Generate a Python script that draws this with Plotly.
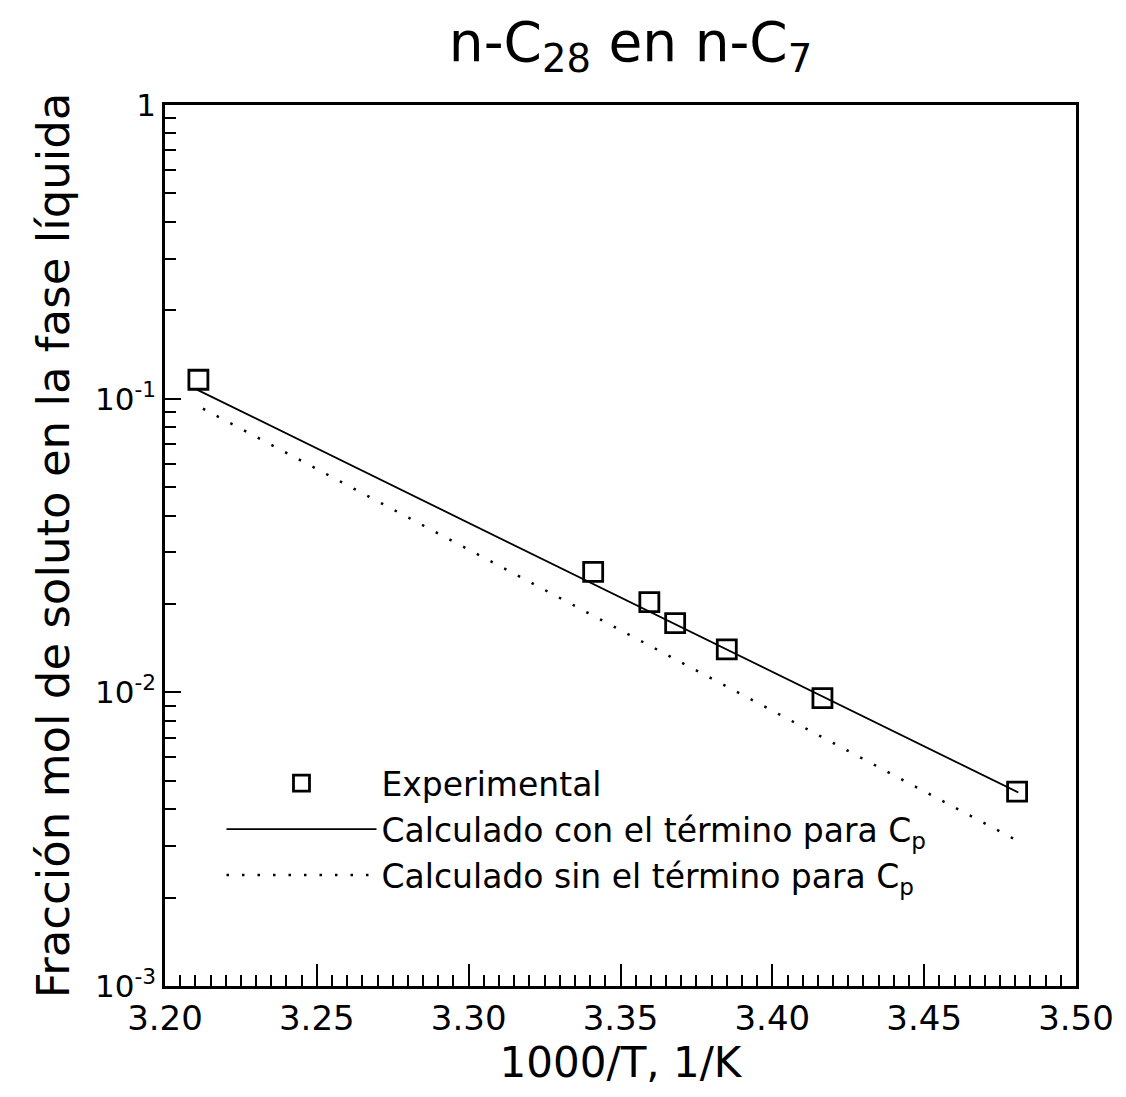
import plotly.graph_objects as go

# Experimental solubility of n-C28 in n-C7
exp_x = [3.211, 3.341, 3.3595, 3.368, 3.385, 3.4165, 3.4806]
exp_y = [0.116, 0.0257, 0.0203, 0.0172, 0.0140, 0.00955, 0.00459]

# Calculated curves (straight lines on the log scale)
calc_cp_x = [3.210, 3.481]
calc_cp_y = [0.108, 0.00456]
calc_nocp_x = [3.2125, 3.4813]
calc_nocp_y = [0.0925, 0.0031]

x_ticks = [3.20, 3.25, 3.30, 3.35, 3.40, 3.45, 3.50]
x_labels = ["3.20", "3.25", "3.30", "3.35", "3.40", "3.45", "3.50"]
y_ticks = [0.001, 0.01, 0.1, 1]
y_labels = ["10<sup>-3</sup>", "10<sup>-2</sup>", "10<sup>-1</sup>", "1"]

font_family = "DejaVu Sans"
ink = "black"

fig = go.Figure()

fig.add_trace(go.Scatter(
    x=exp_x, y=exp_y, mode="markers", name="Experimental",
    marker=dict(symbol="square-open", size=19, color=ink, line=dict(width=2.8)),
))
fig.add_trace(go.Scatter(
    x=calc_cp_x, y=calc_cp_y, mode="lines",
    name="Calculado con el término para C<sub>p</sub>",
    line=dict(color=ink, width=1.8),
))
fig.add_trace(go.Scatter(
    x=calc_nocp_x, y=calc_nocp_y, mode="lines",
    name="Calculado sin el término para C<sub>p</sub>",
    line=dict(color=ink, width=2.5, dash="2.5px,13px"),
))

minor_y = [m * 10 ** e for e in (-3, -2, -1) for m in range(2, 10)]

fig.update_layout(
    width=1126, height=1097,
    margin=dict(l=165, r=50, t=105, b=111),
    paper_bgcolor="white", plot_bgcolor="white",
    font=dict(family=font_family, color=ink, size=28),
    title=dict(
        text="n-C<sub>28</sub> en n-C<sub>7</sub>",
        x=0.56, xanchor="center", y=0.962, yanchor="middle",
        font=dict(size=55, family=font_family),
    ),
    showlegend=True,
    legend=dict(
        x=0.062, y=0.262, xanchor="left", yanchor="top",
        bgcolor="rgba(0,0,0,0)", font=dict(size=33, family=font_family),
        itemwidth=150, tracegroupgap=0,
    ),
    xaxis=dict(
        range=[3.20, 3.50], tickvals=x_ticks, ticktext=x_labels,
        ticks="inside", ticklen=22, tickwidth=2, tickcolor=ink,
        showline=True, linewidth=2.5, linecolor=ink, mirror=True,
        showgrid=False, zeroline=False,
        tickfont=dict(size=34),
        minor=dict(dtick=0.005, ticks="inside", ticklen=11, tickwidth=1.5,
                   tickcolor=ink, showgrid=False),
        title=dict(text="1000/T, 1/K", font=dict(size=42), standoff=10),
    ),
    yaxis=dict(
        type="log", range=[-3, 0], tickvals=y_ticks, ticktext=y_labels,
        ticks="inside", ticklen=16, tickwidth=2, tickcolor=ink,
        showline=True, linewidth=2.5, linecolor=ink, mirror=True,
        showgrid=False, zeroline=False,
        tickfont=dict(size=31),
        minor=dict(tickvals=minor_y, ticks="inside", ticklen=11, tickwidth=1.5,
                   tickcolor=ink, showgrid=False),
        title=dict(text="Fracción mol de soluto en la fase líquida",
                   font=dict(size=45), standoff=12),
    ),
)

fig.write_html("out.html")
